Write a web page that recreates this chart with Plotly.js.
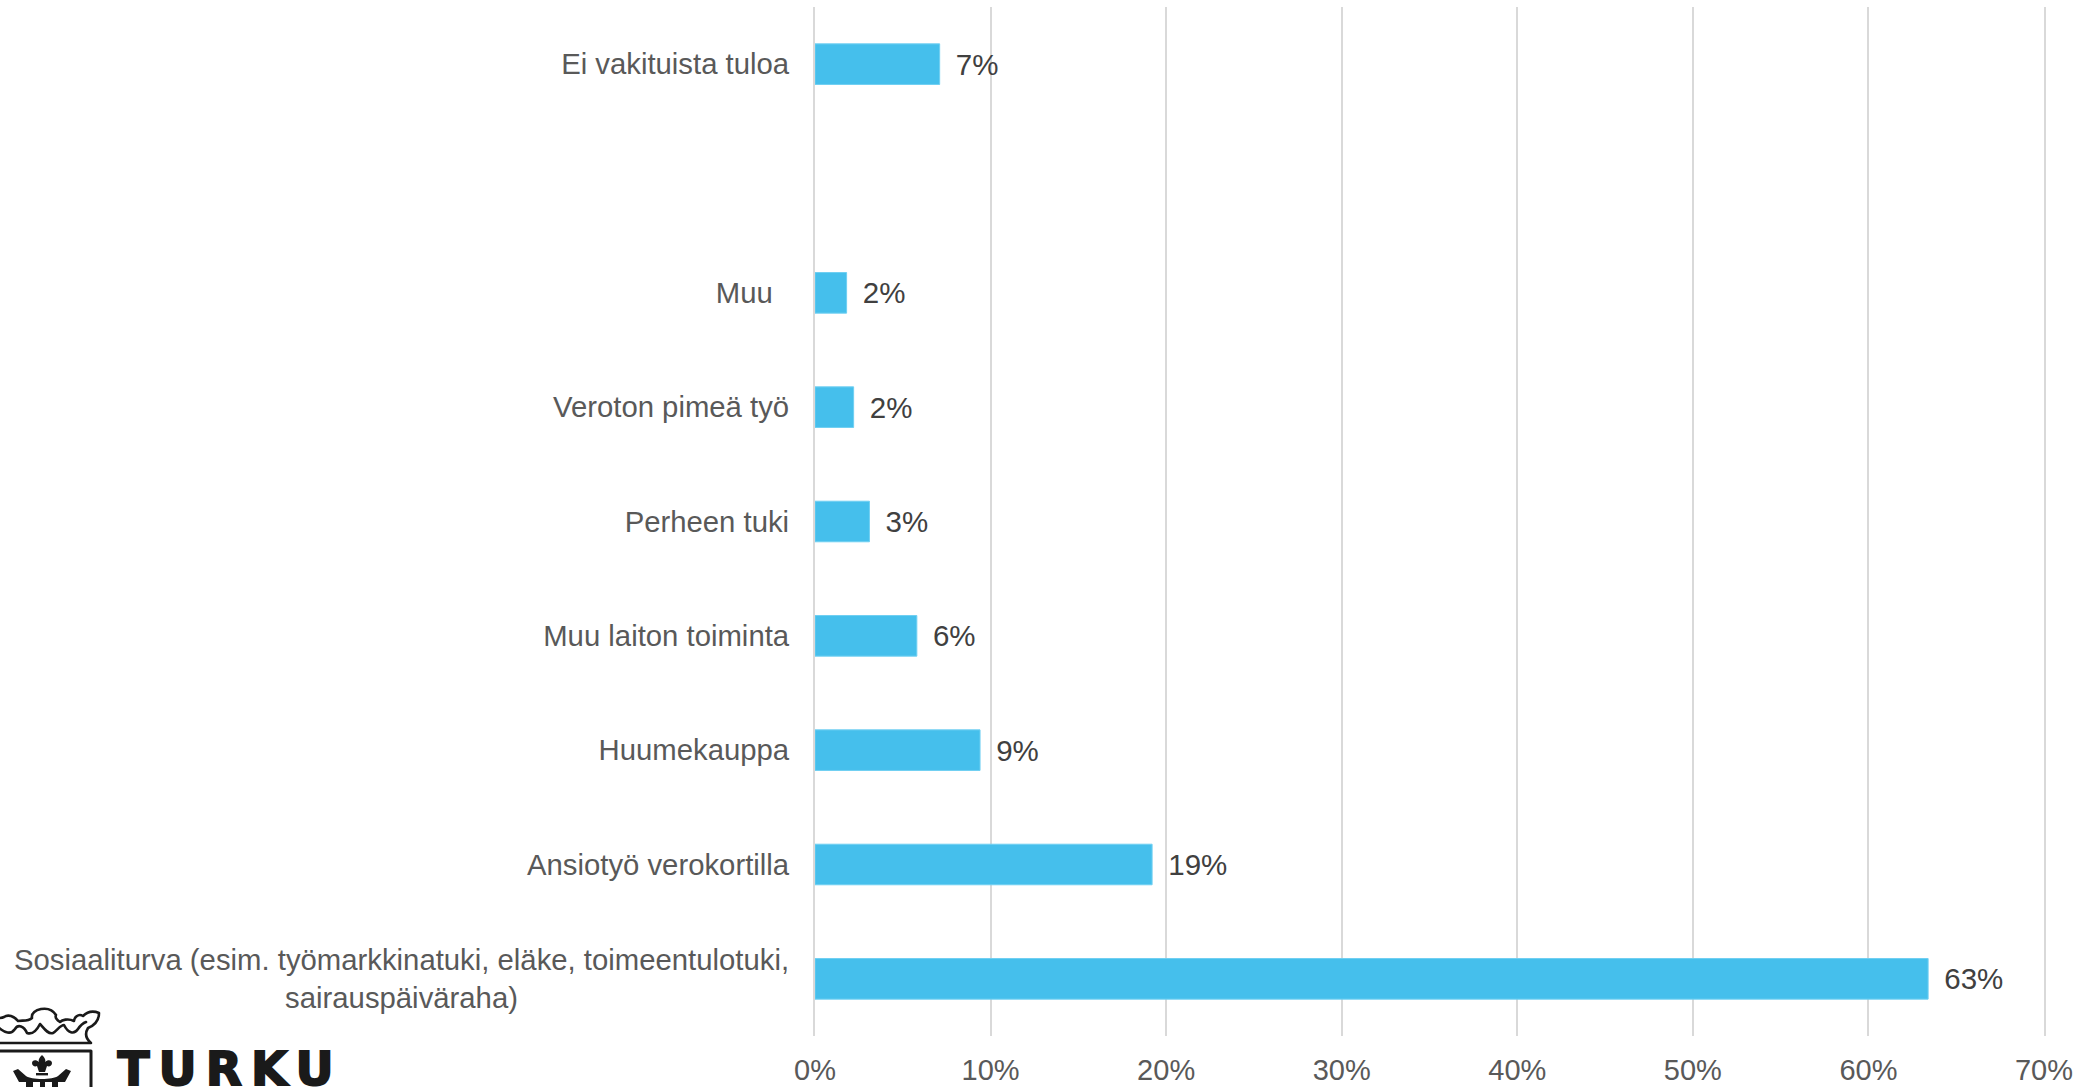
<!DOCTYPE html>
<html><head><meta charset="utf-8">
<script src="https://cdn.plot.ly/plotly-3.0.1.min.js"></script>
<style>html,body{margin:0;padding:0;background:#fff;overflow:hidden}#c{width:2085px;height:1087px}
.annotation[data-index="1"] text{letter-spacing:9px;stroke:#1a1a1a;stroke-width:1.8px}</style>
</head><body><div id="c"></div>
<script>
const categories = [
  "Sosiaaliturva (esim. työmarkkinatuki, eläke, toimeentulotuki,<br>sairauspäiväraha)",
  "Ansiotyö verokortilla",
  "Huumekauppa",
  "Muu laiton toiminta",
  "Perheen tuki",
  "Veroton pimeä työ",
  "Muu\u00a0\u00a0",
  "\u00a0",
  "Ei vakituista tuloa"
];
const values = [0.634, 0.192, 0.094, 0.058, 0.031, 0.022, 0.018, null, 0.071];
const labels = ["63%", "19%", "9%", "6%", "3%", "2%", "2%", "", "7%"];
const xTicks = [0, 0.1, 0.2, 0.3, 0.4, 0.5, 0.6, 0.7];
const xTickText = ["0%", "10%", "20%", "30%", "40%", "50%", "60%", "70%"];
const positions = categories.map((_, i) => i);

const crest = `<svg xmlns="http://www.w3.org/2000/svg" width="110" height="87" viewBox="0 0 110 87">
<g fill="none" stroke="#1a1a1a" stroke-width="2.6" stroke-linejoin="round" stroke-linecap="round">
<path d="M-3 43 H91 C85 38 85 33 88 28 C93 26 99 22 99 13 C94 11 88 11 83 16 C78 13 74 18 74 21 C68 18 62 20 60 22 C57 20 55 17 56 15 C53 10 47 8 41 9 C36 10 31 13 32 18 C28 22 22 20 18 21 C14 16 8 14 4 17 C2 18 0 18 -2 18"/>
<path d="M-2 27 C5 33 11 35 15 29 C18 24 24 26 27 33 C33 35 37 30 40 24 C43 27 48 35 53 33 C57 31 60 25 64 25 C68 33 74 35 78 29 C80 26 83 23 86 22"/>
<path d="M-3 51 H91 V90" stroke-width="3"/>
</g>
<g fill="#1a1a1a">
<path d="M42 55 C45 58 46 60 45 62 C48 59 52 60 52 63 C52 66 49 67 47 66 L45 72 H39 L37 66 C35 67 32 66 32 63 C32 60 36 59 39 62 C38 60 39 58 42 55 Z"/>
<rect x="36" y="73" width="12" height="2.4"/>
<path d="M13 71 L18 69 L26 76 C31 80 53 80 58 76 L66 69 L71 71 L65 82 H58 V90 H26 V82 H19 Z"/>
</g>
<rect x="33" y="82" width="7" height="8" fill="#fff"/>
<rect x="45" y="82" width="7" height="8" fill="#fff"/>
</svg>`;

Plotly.newPlot("c", [{
  type: "bar", orientation: "h",
  x: values, y: positions,
  width: 0.355,
  marker: {color: "#45BFEC", line: {color: "#6FCFF2", width: 1}},
  text: labels.map(s => s ? "\u00a0\u200a\u200a" + s : s),
  textposition: "outside",
  textfont: {family: "Liberation Sans", size: 29.5, color: "#404040"},
  cliponaxis: false,
  hoverinfo: "skip"
}], {
  width: 2085, height: 1087,
  margin: {l: 815, r: 41, t: 7, b: 51, pad: 0},
  paper_bgcolor: "#fff", plot_bgcolor: "#fff",
  showlegend: false,
  font: {family: "Liberation Sans", size: 29, color: "#595959"},
  xaxis: {
    range: [0, 0.7], tickmode: "array", tickvals: xTicks, ticktext: xTickText,
    showgrid: true, gridcolor: "#D9D9D9", gridwidth: 2,
    zeroline: false, showline: false, ticks: "outside", ticklen: 8, tickcolor: "rgba(0,0,0,0)",
    tickfont: {family: "Liberation Sans", size: 29, color: "#595959"}
  },
  yaxis: {
    range: [-0.5, 8.5], tickmode: "array", tickvals: positions,
    ticktext: categories.map((c, i) => i === 0 ? "\u00a0" : c),
    showgrid: false, zeroline: false, showline: true, mirror: true, linecolor: "#D9D9D9", linewidth: 2,
    ticks: "outside", ticklen: 18, tickcolor: "rgba(0,0,0,0)",
    tickfont: {family: "Liberation Sans", size: 29.3, color: "#595959"}
  },
  annotations: [{
    text: categories[0], xref: "paper", yref: "y", x: (401 - 815) / 1229, y: positions[0],
    xanchor: "center", yanchor: "middle", align: "center", showarrow: false,
    font: {family: "Liberation Sans", size: 29.3, color: "#595959"}
  }, {
    text: "<b>TURKU</b>", xref: "paper", yref: "paper", x: (138 - 815) / 1229, y: (1036 - 1068) / 1029,
    xanchor: "left", yanchor: "middle", showarrow: false,
    font: {family: "DejaVu Sans", size: 47, color: "#1a1a1a"}
  }],
  images: [{
    source: "data:image/svg+xml;charset=utf-8," + encodeURIComponent(crest),
    xref: "paper", yref: "paper", x: -815 / 1229, y: 36 / 1029,
    sizex: 110 / 1229, sizey: 87 / 1029, sizing: "stretch", xanchor: "left", yanchor: "top", layer: "above"
  }]
}, {staticPlot: true, displayModeBar: false});
</script></body></html>
